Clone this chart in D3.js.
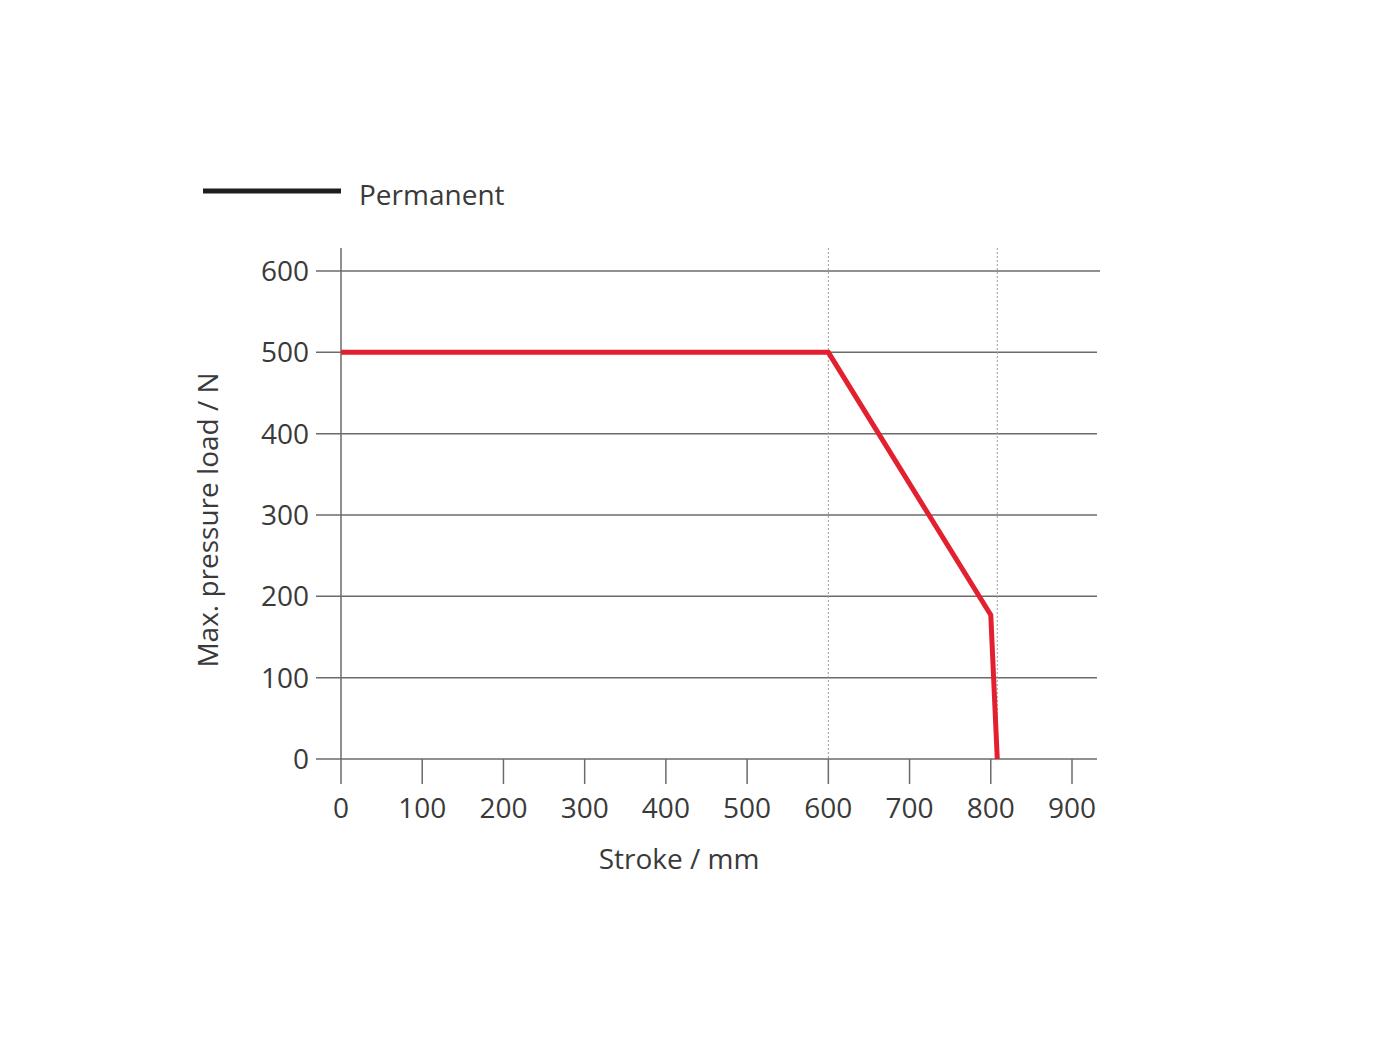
<!DOCTYPE html>
<html>
<head>
<meta charset="utf-8">
<script src="https://cdn.jsdelivr.net/npm/d3@7"></script>
<style>
  body { margin: 0; background: #fff; }
  text { font-family: "Open Sans", "Noto Sans", sans-serif; fill: #3a3a3a; }
</style>
</head>
<body>
<svg id="chart"></svg>
<script>
// data
const strokeValues = [0, 600, 800, 808];
const loadValues = [500, 500, 177, 0];
const xTicks = [0, 100, 200, 300, 400, 500, 600, 700, 800, 900];
const yTicks = [0, 100, 200, 300, 400, 500, 600];
const refLines = [600, 808];
const legendLabel = 'Permanent';

const width = 1400, height = 1050;
const margin = { left: 341, top: 271 };

const svg = d3.select('#chart')
  .attr('width', width)
  .attr('height', height);

const x = d3.scaleLinear().domain([0, 900]).range([341, 1072]);
const y = d3.scaleLinear().domain([0, 600]).range([759, 271]);

// horizontal grid lines (also tick marks to the left)
svg.append('g')
  .selectAll('line')
  .data(yTicks)
  .join('line')
  .attr('x1', 316)
  .attr('x2', d => d === 600 ? 1100 : 1097)
  .attr('y1', d => y(d))
  .attr('y2', d => y(d))
  .attr('stroke', '#6b6b6b')
  .attr('stroke-width', 1.5);

// dashed reference lines
svg.append('g')
  .selectAll('line')
  .data(refLines)
  .join('line')
  .attr('x1', d => x(d))
  .attr('x2', d => x(d))
  .attr('y1', 248)
  .attr('y2', y(0))
  .attr('stroke', '#9a9a9a')
  .attr('stroke-width', 1)
  .attr('stroke-dasharray', '2,2');

// y axis line
svg.append('line')
  .attr('x1', x(0)).attr('x2', x(0))
  .attr('y1', 248).attr('y2', 784)
  .attr('stroke', '#6b6b6b')
  .attr('stroke-width', 1.5);

// x ticks
svg.append('g')
  .selectAll('line')
  .data(xTicks.slice(1))
  .join('line')
  .attr('x1', d => x(d)).attr('x2', d => x(d))
  .attr('y1', y(0)).attr('y2', 784)
  .attr('stroke', '#6b6b6b')
  .attr('stroke-width', 1.5);

// tick labels
svg.append('g')
  .selectAll('text')
  .data(xTicks)
  .join('text')
  .attr('x', d => x(d))
  .attr('y', 818)
  .attr('text-anchor', 'middle')
  .attr('font-size', 28)
  .text(d => d);

svg.append('g')
  .selectAll('text')
  .data(yTicks)
  .join('text')
  .attr('x', 309)
  .attr('y', d => y(d) + 10)
  .attr('text-anchor', 'end')
  .attr('font-size', 28)
  .text(d => d);

// axis titles
svg.append('text')
  .attr('x', 679)
  .attr('y', 869)
  .attr('text-anchor', 'middle')
  .attr('font-size', 28)
  .text('Stroke / mm');

svg.append('text')
  .attr('transform', 'translate(218,520) rotate(-90)')
  .attr('text-anchor', 'middle')
  .attr('font-size', 28)
  .text('Max. pressure load / N');

// the curve
const line = d3.line()
  .x((d, i) => x(strokeValues[i]))
  .y(d => y(d));

svg.append('path')
  .datum(loadValues)
  .attr('d', line)
  .attr('fill', 'none')
  .attr('stroke', '#e3202f')
  .attr('stroke-width', 5)
  .attr('stroke-linejoin', 'miter');

// legend
svg.append('line')
  .attr('x1', 203).attr('x2', 341)
  .attr('y1', 191).attr('y2', 191)
  .attr('stroke', '#1e1e1e')
  .attr('stroke-width', 5);

svg.append('text')
  .attr('x', 359)
  .attr('y', 205)
  .attr('font-size', 28)
  .text(legendLabel);
</script>
</body>
</html>
